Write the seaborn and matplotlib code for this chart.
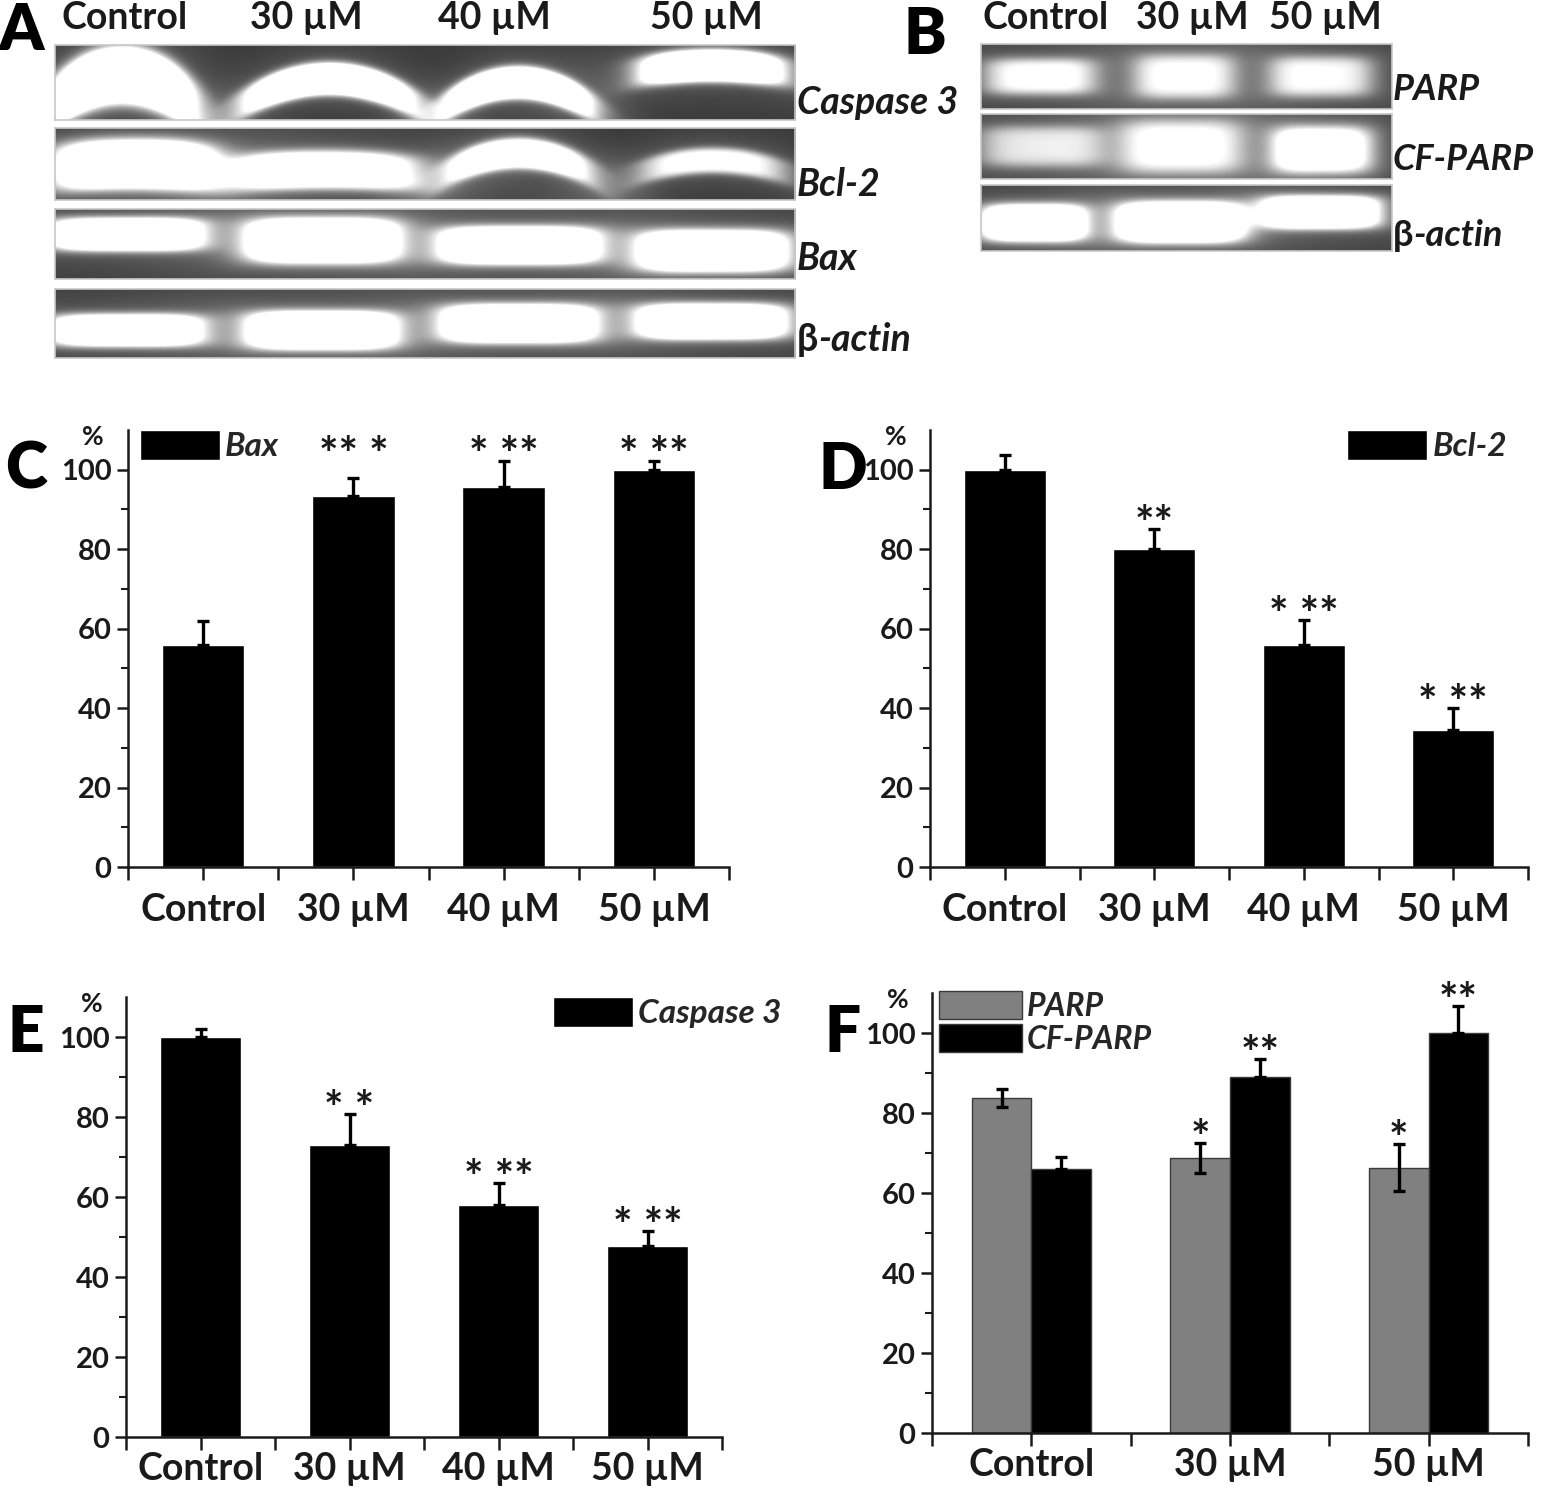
import numpy as np
import pandas as pd
import matplotlib
matplotlib.use("Agg")
import matplotlib.pyplot as plt
from matplotlib.patches import Patch
from matplotlib.text import Annotation
import seaborn as sns

# ---------------- data ----------------
doses4 = ["Control", "30 µM", "40 µM", "50 µM"]
doses3 = ["Control", "30 µM", "50 µM"]

bax_mean = [55.9, 93.5, 95.7, 100.0]
bax_sd = [6.0, 4.4, 6.6, 2.1]
bax_stars = ["", "** *", "* **", "* **"]

bcl2_mean = [100.0, 80.0, 56.0, 34.6]
bcl2_sd = [3.6, 5.0, 6.2, 5.3]
bcl2_stars = ["", "**", "* **", "* **"]

casp3_mean = [100.0, 73.1, 58.1, 47.7]
casp3_sd = [2.1, 7.7, 5.5, 3.8]
casp3_stars = ["", "* *", "* **", "* **"]

parp_mean = [83.7, 68.8, 66.3]
parp_sd = [2.2, 3.7, 5.9]
parp_stars = ["", "*", "*"]
cfparp_mean = [65.9, 89.1, 100.0]
cfparp_sd = [3.2, 4.3, 6.8]
cfparp_stars = ["", "**", "**"]

# gel band look (per strip, per lane): centre, half width, vertical centre,
# half height, arch, brightness -- fractions of the strip
genes_A = ["Caspase 3", "Bcl-2", "Bax", "β-actin"]
gel_A = {
    "Caspase 3": dict(c=[0.09, 0.37, 0.625, 0.887], w=[0.095, 0.11, 0.095, 0.093],
                      y=[0.40, 0.45, 0.50, 0.27], h=[0.36, 0.20, 0.20, 0.20],
                      a=[0.40, 0.30, 0.30, 0.08], b=[1.6, 1.5, 1.5, 1.5]),
    "Bcl-2": dict(c=[0.108, 0.364, 0.626, 0.888], w=[0.103, 0.12, 0.093, 0.093],
                  y=[0.50, 0.58, 0.35, 0.45], h=[0.32, 0.25, 0.20, 0.17],
                  a=[0.05, 0.05, 0.25, 0.15], b=[1.5, 1.1, 1.1, 0.75]),
    "Bax": dict(c=[0.096, 0.361, 0.627, 0.889], w=[0.098, 0.097, 0.101, 0.097],
                y=[0.36, 0.45, 0.52, 0.60], h=[0.22, 0.30, 0.25, 0.28],
                a=[0.0, 0.0, 0.0, 0.0], b=[1.5, 1.6, 1.6, 1.5]),
    "β-actin": dict(c=[0.096, 0.36, 0.626, 0.888], w=[0.098, 0.095, 0.098, 0.095],
                    y=[0.60, 0.60, 0.50, 0.47], h=[0.22, 0.26, 0.26, 0.24],
                    a=[0.0, 0.0, 0.0, 0.0], b=[1.4, 1.6, 1.6, 1.6]),
}
genes_B = ["PARP", "CF-PARP", "β-actin"]
gel_B = {
    "PARP": dict(c=[0.143, 0.495, 0.828], w=[0.13, 0.118, 0.12],
                 y=[0.50, 0.50, 0.50], h=[0.27, 0.33, 0.30],
                 a=[0.0, 0.0, 0.0], b=[0.7, 0.65, 0.65]),
    "CF-PARP": dict(c=[0.148, 0.488, 0.83], w=[0.145, 0.145, 0.118],
                    y=[0.50, 0.50, 0.55], h=[0.30, 0.40, 0.35],
                    a=[0.0, 0.0, 0.0], b=[0.55, 0.68, 0.95]),
    "β-actin": dict(c=[0.128, 0.485, 0.828], w=[0.12, 0.148, 0.135],
                    y=[0.58, 0.57, 0.42], h=[0.26, 0.29, 0.23],
                    a=[0.0, 0.0, 0.0], b=[1.5, 1.5, 1.5]),
}

W, H = 1542, 1487
sns.set_theme(style="ticks")
plt.rcParams["font.family"] = ["Lato", "DejaVu Sans"]
plt.rcParams["font.weight"] = "bold"
INK = "#1a1a1a"

fig = plt.figure(figsize=(W / 100, H / 100), dpi=100)


def px_axes(l, t, r, b):
    return fig.add_axes([l / W, 1 - b / H, (r - l) / W, (b - t) / H])


def fig_text(x, y, s, **kw):
    return fig.text(x / W, 1 - y / H, s, **kw)


def gel_strip(box, p):
    l, t, r, b = box
    nx, ny = int(r - l), int(b - t)
    x = np.linspace(0, 1, nx)[None, :]
    y = np.linspace(0, 1, ny)[:, None]
    img = np.full((ny, nx), 0.23)
    for c, w, y0, h, a, br in zip(p["c"], p["w"], p["y"], p["h"], p["a"], p["b"]):
        dx = (x - c) / w
        dy = (y - (y0 + a * dx ** 2)) / h
        rr = (dx ** 4 + dy ** 4) ** 0.25
        img = img + br / (1 + np.exp((rr - 1) / 0.16)) + 0.12 * np.exp(-rr ** 2 / 5)
    ax = px_axes(l, t, r, b)
    ax.imshow(np.clip(img, 0, 1), cmap="gray", vmin=0, vmax=1, aspect="auto",
              extent=(0, 1, 1, 0), interpolation="bilinear")
    ax.set_xticks([])
    ax.set_yticks([])
    for sp in ax.spines.values():
        sp.set_color("#c8c8c8")
        sp.set_linewidth(1.2)
    return ax


def gene_label(x, y, name, size=27):
    if name.startswith("β"):
        t = fig_text(x, y, "β", fontsize=size, weight="bold", va="center", ha="left", color=INK)
        fig.add_artist(Annotation(name[1:], xy=(1, 0), xycoords=t, va="bottom", ha="left",
                                  fontsize=size, weight="bold", style="italic", color=INK))
    else:
        fig_text(x, y, name, fontsize=size, weight="bold", style="italic",
                 va="center", ha="left", color=INK)


# ---------------- gels A ----------------
rows_A = [(55, 45, 795, 120), (55, 128, 795, 200), (55, 209, 795, 279), (55, 289, 795, 358)]
label_y_A = [102, 185, 258, 340]
for g, box, ly in zip(genes_A, rows_A, label_y_A):
    gel_strip(box, gel_A[g])
    gene_label(797, ly, g)
for s, x in zip(doses4, [125, 306, 494, 706]):
    fig_text(x, 18, s, fontsize=27, weight="bold", ha="center", va="center", color=INK)

# ---------------- gels B ----------------
rows_B = [(981, 44, 1392, 109), (981, 114, 1392, 179), (981, 185, 1392, 251)]
label_y_B = [90, 160, 236]
for g, box, ly in zip(genes_B, rows_B, label_y_B):
    gel_strip(box, gel_B[g])
    gene_label(1393, ly, g, size=26)
for s, x in zip(doses3, [1046, 1192, 1325]):
    fig_text(x, 18, s, fontsize=27, weight="bold", ha="center", va="center", color=INK)


# ---------------- bar panels ----------------
def style_axes(ax, n, xpad):
    ax.set_ylim(0, 110)
    ax.set_xlim(-0.5, n - 0.5)
    ax.set_yticks(range(0, 101, 20))
    ax.set_yticks([10, 30, 50, 70, 90], minor=True)
    ax.set_xticks(range(n))
    ax.set_xticks(np.arange(-0.5, n), minor=True)
    ax.set_xlabel("")
    ax.set_ylabel("")
    sns.despine(ax=ax)
    for sp in ("left", "bottom"):
        ax.spines[sp].set_linewidth(1.8)
        ax.spines[sp].set_color(INK)
    ax.tick_params(axis="x", which="both", length=9, width=1.8, color=INK,
                   labelsize=27, pad=xpad, labelcolor=INK)
    ax.tick_params(axis="y", which="major", length=8, width=1.8, color=INK,
                   labelsize=21, pad=4, labelcolor=INK)
    ax.tick_params(axis="y", which="minor", length=5, width=1.5, color=INK)
    for lab in ax.get_xticklabels() + ax.get_yticklabels():
        lab.set_fontweight("bold")
    ax.text(-0.058, 0.985, "%", transform=ax.transAxes, fontsize=19,
            ha="center", va="center", color=INK)


def err_up(ax, xs, m, sd):
    ax.errorbar(xs, m, yerr=[np.zeros(len(sd)), sd], fmt="none", ecolor="black",
                elinewidth=2.4, capsize=4.5, capthick=2.4, zorder=3)


def stars(ax, xs, tops, labels, fixed=None):
    for x, top, s in zip(xs, tops, labels):
        if s:
            ax.text(x, fixed if fixed is not None else top - 2.5, s, ha="center",
                    va="baseline", fontsize=33, weight="bold", color=INK)


def single_panel(box, means, sds, star_labels, gene, leg_anchor, leg_loc,
                 xpad, fixed=None):
    ax = px_axes(*box)
    sns.barplot(x=doses4, y=means, color="black", saturation=1, width=0.55,
                label=gene, ax=ax)
    xs = np.arange(len(means))
    err_up(ax, xs, means, sds)
    stars(ax, xs, np.add(means, sds), star_labels, fixed)
    style_axes(ax, len(means), xpad)
    ax.legend(loc=leg_loc, bbox_to_anchor=leg_anchor, frameon=False,
              prop={"style": "italic", "weight": "bold", "size": 24},
              handlelength=2.4, handleheight=1.0, handletextpad=0.15,
              borderpad=0, borderaxespad=0)
    return ax


single_panel((128, 430, 729, 867), bax_mean, bax_sd, bax_stars, "Bax",
             (0.02, 1.0), "upper left", 10, fixed=100.0)
single_panel((930, 430, 1528, 867), bcl2_mean, bcl2_sd, bcl2_stars, "Bcl-2",
             (0.965, 1.0), "upper right", 10)
single_panel((126, 997, 722, 1437), casp3_mean, casp3_sd, casp3_stars, "Caspase 3",
             (0.716, 1.0), "upper left", 2)

# F: grouped bars
axF = px_axes(932, 993, 1528, 1433)
dfF = pd.DataFrame({
    "dose": doses3 * 2,
    "gene": ["PARP"] * 3 + ["CF-PARP"] * 3,
    "value": parp_mean + cfparp_mean,
})
sns.barplot(data=dfF, x="dose", y="value", hue="gene", order=doses3,
            hue_order=["PARP", "CF-PARP"], palette=["#808080", "black"],
            saturation=1, width=0.6, edgecolor="#3a3a3a", linewidth=1.0,
            legend=False, ax=axF)
xs3 = np.arange(3)
axF.errorbar(xs3 - 0.15, parp_mean, yerr=parp_sd, fmt="none", ecolor="black",
             elinewidth=2.4, capsize=4.5, capthick=2.4, zorder=3)
err_up(axF, xs3 + 0.15, cfparp_mean, cfparp_sd)
stars(axF, xs3 - 0.15, np.add(parp_mean, parp_sd), parp_stars)
stars(axF, xs3 + 0.15, np.add(cfparp_mean, cfparp_sd), cfparp_stars)
style_axes(axF, 3, 2)
handles = [Patch(facecolor="#808080", edgecolor="#3a3a3a", linewidth=1.0),
           Patch(facecolor="black", edgecolor="#3a3a3a", linewidth=1.0)]
axF.legend(handles, ["PARP", "CF-PARP"], loc="upper left", bbox_to_anchor=(0.012, 1.005),
           frameon=False, prop={"style": "italic", "weight": "bold", "size": 23},
           handlelength=2.6, handleheight=1.0, handletextpad=0.15,
           labelspacing=0.08, borderpad=0, borderaxespad=0)

# panel letters
for s, (x, y) in zip("ABCDEF", [(22, 32), (925, 35), (26, 470), (843, 470), (26, 1033), (843, 1033)]):
    fig_text(x, y, s, fontsize=46, weight="heavy", ha="center", va="center", color="black")

fig.savefig("out.png", dpi=100)
